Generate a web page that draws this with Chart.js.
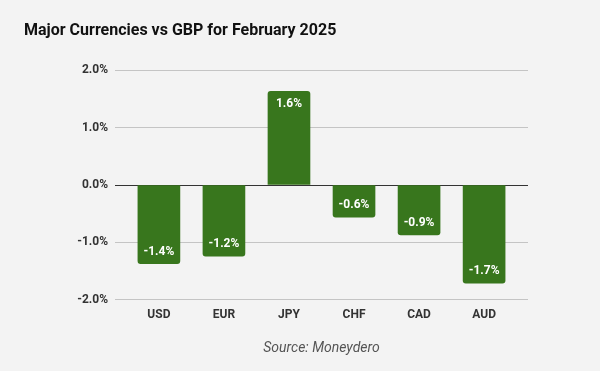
<!DOCTYPE html>
<html>
<head>
<meta charset="utf-8">
<script src="https://cdn.jsdelivr.net/npm/chart.js@4"></script>
<style>
  html, body { margin: 0; padding: 0; background: #f3f3f3; }
  canvas { display: block; }
</style>
</head>
<body>
<canvas id="chart" width="600" height="371"></canvas>
<script>
// Data
const currencies = ['USD', 'EUR', 'JPY', 'CHF', 'CAD', 'AUD'];
const changes = [-1.37, -1.24, 1.63, -0.56, -0.87, -1.71];
const yTicks = [-2, -1, 0, 1, 2];

const barGreen = '#38761d';

// Draws the value labels inside the end of each bar
const valueLabels = {
    id: 'valueLabels',
    afterDatasetsDraw(chart) {
        const ctx = chart.ctx;
        const meta = chart.getDatasetMeta(0);
        ctx.save();
        ctx.fillStyle = '#ffffff';
        ctx.font = 'bold 12px Roboto';
        ctx.textAlign = 'center';
        ctx.textBaseline = 'middle';
        meta.data.forEach((bar, i) => {
            const v = changes[i];
            const y = v < 0 ? bar.y - 12 : bar.y + 13;
            ctx.fillText(v.toFixed(1) + '%', bar.x, y);
        });
        ctx.restore();
    }
};

new Chart(document.getElementById('chart'), {
    type: 'bar',
    data: {
        datasets: [{
            data: changes.map((v, i) => ({ x: i, y: v })),
            backgroundColor: barGreen,
            borderRadius: 3,
            barThickness: 42
        }]
    },
    options: {
        responsive: false,
        animation: false,
        layout: { padding: { left: 24, right: 72, top: 21, bottom: 14 } },
        plugins: {
            legend: { display: false },
            tooltip: { enabled: false },
            title: {
                display: true,
                text: 'Major Currencies vs GBP for February 2025',
                align: 'start',
                color: '#111111',
                font: { family: 'Roboto', size: 16, weight: 'bold' },
                padding: { top: 0, bottom: 30 }
            },
            subtitle: {
                display: true,
                position: 'bottom',
                fullSize: false,
                text: 'Source: Moneydero',
                color: '#555555',
                font: { family: 'Roboto', size: 14, style: 'italic', weight: 'normal' },
                padding: { top: 10, bottom: 0 }
            }
        },
        scales: {
            x: {
                type: 'linear',
                min: -0.675,
                max: 5.675,
                offset: false,
                afterBuildTicks: scale => { scale.ticks = currencies.map((c, i) => ({ value: i })); },
                grid: { display: false, drawTicks: false },
                border: { display: false },
                ticks: {
                    autoSkip: false,
                    maxRotation: 0,
                    padding: 8,
                    color: '#333333',
                    font: { family: 'Roboto', size: 12, weight: 'bold' },
                    callback: v => currencies[v]
                }
            },
            y: {
                min: -2,
                max: 2,
                afterFit: scale => { scale.width = 91; },
                afterBuildTicks: scale => { scale.ticks = yTicks.map(v => ({ value: v })); },
                grid: {
                    drawTicks: false,
                    color: ctx => ctx.tick && ctx.tick.value === 0 ? '#333333' : '#c4c4c4',
                    lineWidth: 1
                },
                border: { display: false },
                ticks: {
                    padding: 7,
                    color: '#333333',
                    font: { family: 'Roboto', size: 12, weight: 'bold' },
                    callback: v => v.toFixed(1) + '%'
                }
            }
        }
    },
    plugins: [valueLabels]
});
</script>
</body>
</html>
